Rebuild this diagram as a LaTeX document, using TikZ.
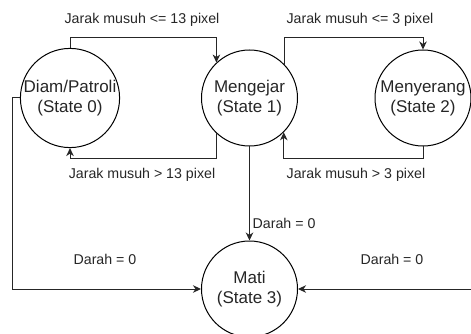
\documentclass[tikz,border=0pt]{standalone}
\usepackage{fontspec}
\setmainfont{Liberation Sans}
\usetikzlibrary{arrows.meta}
\begin{document}
\begin{tikzpicture}[x=1pt,y=-1pt,
  statenode/.style={draw=black,line width=1pt,circle,minimum size=96pt,inner sep=0pt,align=center,
    font=\fontsize{17}{20}\selectfont,text=black!85},
  lbl/.style={font=\fontsize{14.2}{17}\selectfont,text=black!85,inner sep=0pt},
  arr/.style={draw=black!85,line width=1pt,-{Stealth[length=8pt,width=7.5pt,inset=2.5pt]}},
  ln/.style={draw=black!85,line width=1pt}]
\useasboundingbox (0,0) rectangle (471,334);
\clip (0,0) rectangle (471,334);
\node[statenode] (s0) at (70,98) {Diam/Patroli\\(State 0)};
\node[statenode] (s1) at (249.5,98) {Mengejar\\(State 1)};
\node[statenode] (s2) at (423,98) {Menyerang\\(State 2)};
\node[statenode] (s3) at (249.5,289) {Mati\\(State 3)};
\coordinate (t1) at (0,38);
\coordinate (b1) at (0,158);
% 0 -> 1
\draw[arr] (s0.north) -- (s0.north |- t1) -| (s1.133);
% 1 -> 0
\draw[arr] (s1.227) -- (s1.227 |- b1) -| (s0.south);
% 1 -> 2
\draw[arr] (s1.43) -- (s1.43 |- t1) -| (s2.north);
% 2 -> 1
\draw[arr] (s2.south) -- (s2.south |- b1) -| (s1.-45);
% 1 -> 3
\draw[arr] (s1.south) -- (s3.north);
% 0 -> 3
\coordinate (l0) at (12,98);
\draw[arr] (s0.west) -- (l0) |- (s3.west);
% 2 -> 3
\coordinate (r0) at (480,98);
\draw[arr] (s2.east) -- (r0) |- (s3.east);
% labels
\node[lbl] (la) at (142,20) {Jarak musuh <= 13 pixel};
\node[lbl] (lb) at (142,175) {Jarak musuh > 13 pixel};
\node[lbl] (lc) at (360,20) {Jarak musuh <= 3 pixel};
\node[lbl] (ld) at (356,175) {Jarak musuh > 3 pixel};
\node[lbl,anchor=west] (le) at (252.5,223) {Darah = 0};
\node[lbl] (lf) at (105,259) {Darah = 0};
\node[lbl] (lg) at (392,259) {Darah = 0};
\end{tikzpicture}
\end{document}
